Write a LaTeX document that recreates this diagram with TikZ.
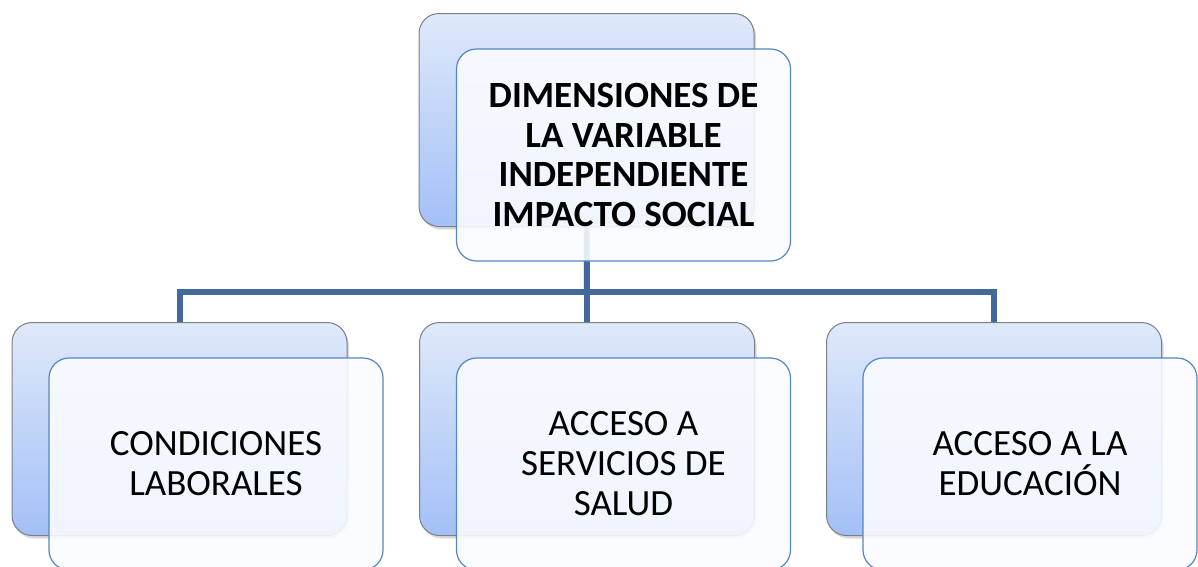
\documentclass[tikz,border=0pt]{standalone}
\usepackage{fontspec}
\setmainfont{Carlito}
\usetikzlibrary{shadows}
\definecolor{backtop}{HTML}{DFE9FA}
\definecolor{backbot}{HTML}{A3C0F7}
\definecolor{backline}{HTML}{7A7F88}
\definecolor{frontline}{HTML}{5686C2}
\definecolor{frontfill}{HTML}{FBFCFF}
\definecolor{connblue}{HTML}{41699C}
\begin{document}
\begin{tikzpicture}[x=1pt,y=-1pt,
  backbox/.style={draw=backline, line width=1pt, rounded corners=20pt,
    top color=backtop, bottom color=backbot,
    minimum width=335pt, minimum height=213pt, inner sep=0pt,
    drop shadow={opacity=0.3, shadow xshift=2pt, shadow yshift=-3pt}},
  frontbox/.style={draw=frontline, line width=1.2pt, rounded corners=20pt,
    fill=frontfill, fill opacity=0.88, text opacity=1,
    minimum width=334pt, minimum height=212pt, inner sep=0pt,
    align=center, font=\fontsize{37}{40}\selectfont},
  conn/.style={draw=connblue, line width=6pt, line join=miter}]
\useasboundingbox (0,0) rectangle (1198,566);
\clip (0,0) rectangle (1198,566);
% back boxes
\node[backbox] (tb) at (586.5,120) {};
\node[backbox] (lb) at (179.5,429) {};
\node[backbox] (mb) at (587,429) {};
\node[backbox] (rb) at (994,429) {};
% connectors
\coordinate (j) at (587,292);
\draw[conn] (tb.south) -- (j);
\draw[conn] (lb.north) |- (j) -| (rb.north);
\draw[conn] (j) -- (mb.north);
% front boxes
\node[frontbox, font=\fontsize{37}{39.5}\selectfont\bfseries] (tf) at (623.5,155)
  {DIMENSIONES DE\\LA VARIABLE\\INDEPENDIENTE\\IMPACTO SOCIAL};
\node[frontbox] (lf) at (216,464) {CONDICIONES\\LABORALES};
\node[frontbox] (mf) at (623.5,464) {ACCESO A\\SERVICIOS DE\\SALUD};
\node[frontbox] (rf) at (1030,464) {ACCESO A LA\\EDUCACIÓN};
\end{tikzpicture}
\end{document}
